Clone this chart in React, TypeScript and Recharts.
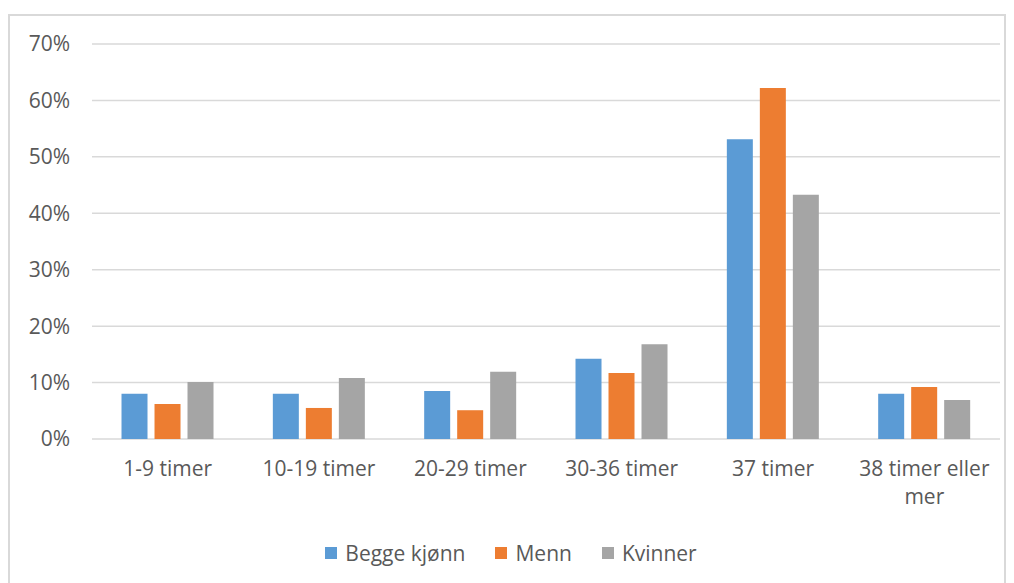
import { BarChart, Bar, CartesianGrid, XAxis, YAxis, Legend } from "recharts";

const categories = [
  "1-9 timer",
  "10-19 timer",
  "20-29 timer",
  "30-36 timer",
  "37 timer",
  "38 timer eller mer",
];
const begge = [8.0, 8.0, 8.5, 14.2, 53.1, 8.0];
const menn = [6.2, 5.5, 5.1, 11.7, 62.2, 9.2];
const kvinner = [10.1, 10.8, 11.9, 16.8, 43.3, 6.9];
const yTicks = [0, 10, 20, 30, 40, 50, 60, 70];

const seriesNames = ["Begge kjønn", "Menn", "Kvinner"];
const seriesColors = ["#5B9BD5", "#ED7D31", "#A5A5A5"];

const data = categories.map((name, i) => ({
  name,
  begge: begge[i],
  menn: menn[i],
  kvinner: kvinner[i],
}));

const FONT = "'Open Sans', sans-serif";
const TEXT = "#595959";
const SIZE = 21;

// wraps long category labels onto two lines like the original
function CategoryTick(props: any) {
  const { x, y, payload } = props;
  const label: string = payload.value;
  const lines = label.length > 14 ? [label.slice(0, 14), label.slice(15)] : [label];
  return (
    <text x={x} y={y} textAnchor="middle" fill={TEXT} fontSize={SIZE} fontFamily={FONT}>
      {lines.map((l, i) => (
        <tspan key={i} x={x} dy={i === 0 ? 29 : 28}>
          {l}
        </tspan>
      ))}
    </text>
  );
}

function LegendContent() {
  return (
    <div style={{ display: "flex", justifyContent: "center", gap: 30, fontFamily: FONT, fontSize: SIZE, color: TEXT }}>
      {seriesNames.map((n, i) => (
        <div key={n} style={{ display: "flex", alignItems: "center" }}>
          <span style={{ width: 12, height: 12, background: seriesColors[i], marginRight: 8, display: "inline-block" }} />
          <span>{n}</span>
        </div>
      ))}
    </div>
  );
}

export default function App() {
  return (
    <div style={{ position: "absolute", left: 0, top: 0, width: 1014, height: 583, background: "#fff", overflow: "hidden" }}>
      <div
        style={{
          position: "absolute",
          left: 8,
          top: 14,
          width: 998,
          height: 600,
          border: "2px solid #d9d9d9",
          boxSizing: "border-box",
        }}
      />
      <div style={{ position: "absolute", left: 0, top: 0 }}>
        <BarChart
          width={1014}
          height={583}
          data={data}
          margin={{ top: 44, right: 14, left: 22, bottom: 16 }}
          barGap={7}
          barCategoryGap="19.5%"
        >
          <CartesianGrid vertical={false} stroke="#d9d9d9" strokeWidth={1.5} />
          <XAxis
            dataKey="name"
            height={100}
            axisLine={false}
            tickLine={false}
            interval={0}
            tick={<CategoryTick />}
          />
          <YAxis
            width={70}
            domain={[0, 70]}
            ticks={yTicks}
            tickFormatter={(v) => `${v}%`}
            axisLine={false}
            tickLine={false}
            tickMargin={16}
            tick={{ fill: TEXT, fontSize: SIZE, fontFamily: FONT }}
          />
          <Legend verticalAlign="bottom" align="center" content={<LegendContent />} />
          <Bar dataKey="begge" name={seriesNames[0]} fill={seriesColors[0]} isAnimationActive={false} />
          <Bar dataKey="menn" name={seriesNames[1]} fill={seriesColors[1]} isAnimationActive={false} />
          <Bar dataKey="kvinner" name={seriesNames[2]} fill={seriesColors[2]} isAnimationActive={false} />
        </BarChart>
      </div>
    </div>
  );
}
